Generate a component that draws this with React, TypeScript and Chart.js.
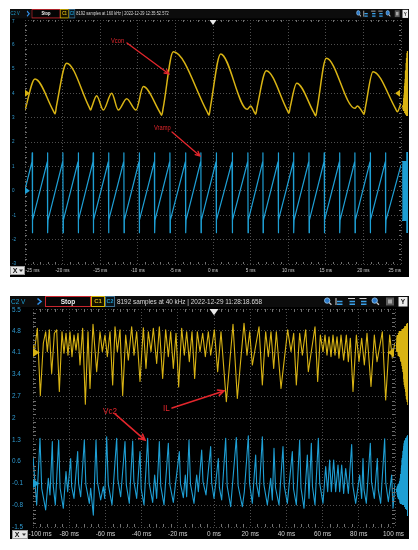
import { useEffect, useRef } from "react";
import { Chart, registerables } from "chart.js";

Chart.register(...registerables);

const FONT = '"Liberation Sans", Arial, sans-serif';
const YELLOW = "#d9b414";
const BLUE = "#1e9fd4";
const RED = "#e3262c";

// ---------------- top capture: 8192 samples at 160 kHz ----------------
const topTimeTicks = [-25, -20, -15, -10, -5, 0, 5, 10, 15, 20, 25];
const topVoltTicks = [7, 6, 5, 4, 3, 2, 1, 0, -1, -2, -3];
const topHeader = "8192 samples at 160 kHz | 2022-12-29 12:35:52.572";

// Vcon (C1, yellow): points (ms, V on the C2 grid)
const vconTime = [-25, -23.67, -21.25, -21.0, -20.8, -19.46, -16.5, -16.27, -16.1, -15.47, -14.59, -13.47, -12.59, -11.48, -10.24, -9.27, -7.05, -6.82, -6.62, -5.28, -0.78, -0.53, -0.33, 1.02, 4.56, 5.0, 5.5, 5.68, 5.88, 7.09, 9.85, 10.1, 10.28, 11.13, 13.4, 13.66, 13.86, 15.07, 18.88, 19.19, 19.9, 20.08, 20.28, 21.28, 24.25, 24.5, 25];
const vconVolt = [3.31, 4.58, 3.29, 3.15, 3.5, 5.23, 3.45, 3.31, 3.45, 3.9, 3.31, 4.0, 3.31, 3.77, 3.31, 4.27, 3.21, 3.1, 3.4, 5.7, 3.24, 3.1, 3.45, 5.61, 3.34, 3.48, 3.22, 3.14, 3.45, 4.92, 3.32, 3.18, 3.45, 4.41, 3.21, 3.07, 3.4, 5.43, 3.38, 3.48, 3.22, 3.14, 3.45, 4.88, 3.38, 3.24, 3.59];

// Vramp (C2, blue): reset instants (ms) and levels (V)
const vrampResetTime = [-24.03, -21.99, -19.95, -17.91, -15.92, -13.88, -11.84, -9.8, -7.76, -5.72, -3.63, -1.6, 0.44, 2.57, 4.65, 6.65, 8.69, 10.73, 12.77, 14.8, 16.85, 18.88, 20.92, 22.96];
const vrampStartVolt = 0.05;
const vrampLowVolt = -1.2;
const vrampHighVolt = 1.19;
const vrampSpikeHighVolt = 1.56;
const vrampSpikeLowVolt = -1.72;
const vrampEndVolt = 1.06;

const topCh1Offset = 4;
const topCh2Offset = 0;
const topTrigLevel = 4;

// ---------------- bottom capture: 8192 samples at 40 kHz ----------------
const botTimeTicks = [-100, -80, -60, -40, -20, 0, 20, 40, 60, 80, 100];
const botVoltTicks = [5.5, 4.8, 4.1, 3.4, 2.7, 2, 1.3, 0.6, -0.1, -0.8, -1.5];
const botHeader = "8192 samples at 40 kHz | 2022-12-29 11:28:18.658";

// IL (C1, yellow)
const ilTime = [-100, -99.26, -97.6, -95.95, -94.29, -93.0, -92.08, -90.97, -89.68, -88.21, -86.92, -85.45, -83.98, -82.87, -81.77, -80.66, -79.56, -78.45, -77.35, -76.24, -75.14, -74.03, -72.56, -71.08, -69.61, -68.51, -66.85, -64.82, -62.98, -61.69, -60.22, -58.93, -57.46, -55.98, -54.69, -53.4, -51.93, -50.46, -48.8, -47.33, -45.49, -44.2, -42.72, -40.88, -39.04, -37.57, -36.28, -34.8, -33.52, -31.67, -30.2, -28.36, -26.7, -25.23, -23.94, -22.47, -20.99, -19.52, -17.86, -16.39, -15.1, -13.63, -12.15, -10.68, -9.21, -7.73, -6.26, -4.79, -3.13,
  -1.84, 0.19, 2.03, 3.87, 6.82, 10.5, 12.89, 16.58, 18.23, 19.71, 21.18, 24.86, 26.71, 28.55, 30.02, 31.49, 32.97, 34.44, 37.02, 40.7, 42.54, 44.02, 45.49, 47.33, 48.81, 50.65, 52.12, 55.8, 57.28, 58.75, 60.22, 61.33, 62.43, 63.54, 64.64, 65.75, 66.85, 67.96, 69.06, 70.17, 71.64, 73.11, 74.22, 75.32, 76.8, 78.64, 80.11, 81.59, 83.06, 84.53, 86.74, 88.58, 90.06, 93.0, 94.85, 97.06, 98.53, 99.82, 100];
const ilVolt = [4.35, 4.13, 4.88, 2.72, 4.4, 4.77, 4.13, 4.83, 3.43, 4.72, 4.83, 2.85, 4.77, 4.08, 4.72, 4.02, 4.77, 3.97, 4.66, 4.18, 4.72, 3.7, 4.88, 2.44, 4.77, 2.95, 5.01, 3.49, 4.77, 4.13, 4.66, 3.97, 4.77, 3.06, 4.93, 4.13, 4.83, 2.72, 4.66, 3.86, 4.93, 4.02, 4.77, 3.17, 4.9, 3.59, 4.77, 4.13, 4.88, 3.75, 4.93, 3.27, 4.83, 3.97, 4.77, 3.59, 4.72, 3.0, 4.88, 4.02, 4.77, 3.81, 4.77, 3.27, 4.77, 4.13, 4.72, 3.97, 4.77,
  4.02, 4.83, 3.49, 4.77, 2.52, 5.01, 2.63, 5.04, 4.02, 4.77, 3.7, 4.93, 3.06, 4.77, 3.97, 4.77, 3.59, 4.77, 2.95, 4.83, 4.13, 4.72, 3.06, 4.72, 4.02, 4.83, 3.49, 4.93, 3.17, 4.66, 4.13, 4.66, 4.02, 4.61, 3.97, 4.66, 4.02, 4.61, 3.92, 4.66, 3.86, 4.66, 3.81, 4.56, 2.85, 4.66, 3.81, 4.56, 3.7, 4.72, 3.01, 4.66, 3.81, 4.77, 2.58, 4.66, 3.92, 4.4, 4.3];

// Vc2 (C2, blue): fast rise, then a decay that is steep first and flattens out
const vc2Time = [-100, -99.81, -97.97, -96.13, -95.19, -93.0, -91.53, -90.61, -89.32, -88.82, -87.66, -85.82, -85.05, -83.24, -81.77, -80.85, -79.19, -78.64, -77.35, -75.32, -74.82, -73.66, -71.64, -70.81, -68.87, -68.14, -66.66, -65.19, -64.42, -62.61, -61.14, -60.4, -59.3, -58.42, -56.35, -53.77, -53.11, -51.56, -49.17, -48.45, -46.78, -44.93, -44.27, -42.72, -40.88, -40.22, -38.67, -36.65, -35.82, -33.88, -32.78, -31.67, -30.2, -29.43, -27.62, -25.23, -24.4, -22.47, -19.15, -18.49, -16.94, -15.84, -15.1, -13.81, -12.98, -11.05, -9.57, -8.65, -6.81, -6.09, -4.42,
  -1.84, -1.29, 0.0, 2.4, 2.95, 4.24, 6.45, 7.28, 9.21, 12.34, 13.34, 15.66, 16.76, 18.97, 19.63, 21.18, 23.02, 23.57, 24.86, 26.71, 27.54, 29.47, 31.31, 32.23, 33.15, 33.98, 35.91, 38.12, 38.84, 40.52, 43.28, 43.94, 45.49, 47.33, 48.05, 49.73, 51.57, 52.49, 53.78, 54.39, 55.8, 57.65, 58.42, 60.22, 61.7, 62.8, 63.91, 64.83, 66.12, 67.22, 68.51, 69.43, 70.54, 71.64, 72.75, 74.22, 76.06, 76.72, 78.27, 80.48, 81.59, 82.32, 82.87, 84.16, 86.37, 87.03, 88.58, 90.24, 90.79, 92.08, 94.29, 94.9, 96.32, 98.16, 98.9, 99.82, 100];
const vc2Volt = [0.7, 0.6, -0.79, 1.35, -0.26, -0.95, 0.06, -0.47, 1.24, -0.18, -0.79, 1.29, -0.24, -0.9, 0.28, -0.37, 0.7, -0.2, -0.58, 0.92, -0.1, -0.53, 1.29, -0.13, -0.74, -0.26, -1.12, 1.29, -0.05, -0.63, -0.2, -0.58, 1.4, -0.13, -0.79, 1.35, 0.03, -0.53, 1.24, -0.15, -0.74, 1.26, -0.03, -0.58, 0.92, -0.28, -0.79, 1.35, -0.09, -0.71, 0.17, -0.58, 1.24, -0.18, -0.79, 1.19, -0.14, -0.71, 0.92, -0.12, -0.56, 0.17, -0.53, 1.29, -0.13, -0.74, 0.17, -0.37, 0.97, -0.04, -0.47,
  1.08, -0.08, -0.58, 0.7, -0.23, -0.63, 1.35, -0.19, -0.85, 1.37, -0.18, -0.85, -0.37, 1.43, -0.09, -0.74, 0.81, -0.13, -0.53, 1.4, -0.13, -0.79, 0.06, -0.63, 1.03, -0.24, -0.79, 1.08, -0.19, -0.74, 0.92, -0.28, -0.79, 1.29, -0.24, -0.9, 0.81, -0.58, 1.19, -0.2, -0.79, 1.35, -0.11, -0.74, 0.44, -0.37, 0.65, -0.37, 0.65, -0.37, 0.49, -0.37, 0.49, -0.42, 0.38, -0.42, 1.15, -0.17, -0.74, 0.17, -0.58, 0.7, -0.31, -0.74, 1.19, -0.05, -0.58, 0.7, -0.31, -0.74, 1.33, -0.08, -0.69, 0.17, -0.9, -0.26, -0.1];

const botCh1Offset = 4.1;
const botCh2Offset = -0.1;
const botTrigLevel = 4.1;

// ---------------- helpers ----------------
const zip = (t: number[], v: number[]) => t.map((x, i) => ({ x, y: v[i] }));

function rampPoints() {
  const p = [{ x: topTimeTicks[0], y: vrampStartVolt }];
  for (const t of vrampResetTime) {
    p.push({ x: t - 0.04, y: vrampHighVolt });
    p.push({ x: t - 0.01, y: vrampSpikeHighVolt });
    p.push({ x: t + 0.01, y: vrampSpikeLowVolt });
    p.push({ x: t + 0.05, y: vrampLowVolt });
  }
  p.push({ x: topTimeTicks[topTimeTicks.length - 1], y: vrampEndVolt });
  return p;
}

const TOP: any = {
  left: 10, top: 9, w: 399, h: 268,
  pad: { left: 15, right: 8, top: 11, bottom: 13 },
  xTicks: topTimeTicks, yTicks: topVoltTicks,
  series: [
    { points: zip(vconTime, vconVolt), color: YELLOW, width: 1.5, mono: true },
    { points: rampPoints(), color: BLUE, width: 1.2, mono: false },
  ],
  headerText: topHeader, hsx: 0.62, hsy: 0.85,
  axisFont: 5.4, axisSx: 0.85, yLabelX: 2,
  xLabelY: 7, xLabelMaxRight: 391,
  xBox: { x: 0.5, y: 257.5, w: 14, h: 8 },
  notes: [
    { text: "Vcon", x: -13.56, y: 6.14 },
    { text: "Vramp", x: -7.85, y: 2.57 },
  ],
  arrows: [
    { from: [-11.44, 6.06], to: [-5.85, 4.79] },
    { from: [-5.45, 2.41], to: [-1.73, 1.43] },
  ],
  noteFont: 6.5, noteSx: 0.88, arrowWidth: 1.3, arrowHead: 5,
  ch1: topCh1Offset, ch2: topCh2Offset, trig: topTrigLevel,
  marker: 3.5, minorLen: 2,
};

const BOTTOM: any = {
  left: 10, top: 296, w: 399, h: 243,
  pad: { left: 23, right: 14, top: 13, bottom: 12 },
  xTicks: botTimeTicks, yTicks: botVoltTicks,
  series: [
    { points: zip(ilTime, ilVolt), color: YELLOW, width: 1.1, mono: false },
    { points: zip(vc2Time, vc2Volt), color: BLUE, width: 1.1, mono: false },
  ],
  headerText: botHeader, hsx: 1, hsy: 1,
  axisFont: 6.4, axisSx: 1, yLabelX: 2,
  xLabelY: 7, xLabelMaxRight: 394,
  xBox: { x: 2.5, y: 234.5, w: 15, h: 8 },
  notes: [
    { text: "Vc2", x: -61.3, y: 2.22 },
    { text: "IL", x: -28.2, y: 2.29 },
  ],
  arrows: [
    { from: [-54.7, 2.13], to: [-38.1, 1.29] },
    { from: [-23.2, 2.32], to: [5.5, 2.87] },
  ],
  noteFont: 8.6, noteSx: 0.95, arrowWidth: 1.6, arrowHead: 6.5,
  ch1: botCh1Offset, ch2: botCh2Offset, trig: botTrigLevel,
  marker: 4.5, minorLen: 3,
};

function txt(ctx: CanvasRenderingContext2D, s: string, x: number, y: number, size: number, color: string, align: CanvasTextAlign = "left", sx = 1, bold = false) {
  ctx.save();
  ctx.translate(x, y);
  ctx.scale(sx, 1);
  ctx.font = `${bold ? "bold " : ""}${size}px ${FONT}`;
  ctx.fillStyle = color;
  ctx.textAlign = align;
  ctx.textBaseline = "middle";
  ctx.fillText(s, 0, 0);
  ctx.restore();
}

function drawHeader(ctx: CanvasRenderingContext2D, cfg: any, W: number) {
  const bw = W / cfg.hsx;
  ctx.save();
  ctx.scale(cfg.hsx, cfg.hsy);
  ctx.fillStyle = "#0c0c0c";
  ctx.fillRect(0, 0, bw, 11);
  txt(ctx, "C2 V", 1, 5.8, 6.5, BLUE);
  ctx.strokeStyle = "#3090ea";
  ctx.lineWidth = 1.6;
  ctx.beginPath();
  ctx.moveTo(27.5, 2.5); ctx.lineTo(31, 5.5); ctx.lineTo(27.5, 8.5);
  ctx.stroke();
  ctx.lineWidth = 1;
  ctx.fillStyle = "#050505";
  ctx.fillRect(35.5, 0.5, 45, 10);
  ctx.strokeStyle = "#c8262e";
  ctx.strokeRect(35.5, 0.5, 45, 10);
  txt(ctx, "Stop", 58, 5.8, 6.5, "#f2f2f2", "center", 1, true);
  ctx.fillStyle = "#141200";
  ctx.fillRect(81.5, 0.5, 13, 10);
  ctx.strokeStyle = "#d4b000";
  ctx.strokeRect(81.5, 0.5, 13, 10);
  txt(ctx, "C1", 88, 5.8, 6, YELLOW, "center", 1, true);
  ctx.fillStyle = "#08141c";
  ctx.fillRect(95.5, 0.5, 9, 10);
  ctx.strokeStyle = "#3d6f8f";
  ctx.strokeRect(95.5, 0.5, 9, 10);
  txt(ctx, "C2", 100, 5.8, 5.6, BLUE, "center", 0.95, true);
  txt(ctx, cfg.headerText, 107, 5.8, 6.4, "#dadada");

  // tool icons (right)
  const mag = (cx: number) => {
    ctx.fillStyle = "#2b78c8";
    ctx.beginPath(); ctx.arc(cx - 0.8, 4.6, 2.7, 0, Math.PI * 2); ctx.fill();
    ctx.strokeStyle = "#9fd0f4"; ctx.lineWidth = 0.8; ctx.stroke();
    ctx.strokeStyle = "#cfcfcf"; ctx.lineWidth = 1.3;
    ctx.beginPath(); ctx.moveTo(cx + 1.2, 6.6); ctx.lineTo(cx + 3.4, 8.8); ctx.stroke();
  };
  const bars = (cx: number, variant: number) => {
    ctx.strokeStyle = "#d8d8d8"; ctx.lineWidth = 1;
    ctx.beginPath();
    if (variant === 0) { ctx.moveTo(cx - 3, 2); ctx.lineTo(cx - 3, 9); }
    else { ctx.moveTo(cx - 3.5, 2.5); ctx.lineTo(cx + 3.5, 2.5); }
    ctx.stroke();
    ctx.strokeStyle = "#3aa0e8"; ctx.lineWidth = 1.6;
    ctx.beginPath();
    ctx.moveTo(cx - 2, 5.5); ctx.lineTo(cx + 3.5, 5.5);
    ctx.moveTo(cx - 2, 8.3); ctx.lineTo(cx + 3.5, 8.3);
    ctx.stroke();
  };
  mag(bw - 81);
  bars(bw - 70, 0);
  bars(bw - 57.5, 1);
  bars(bw - 46, 1);
  mag(bw - 33.5);
  ctx.fillStyle = "#595959";
  ctx.fillRect(bw - 23, 1.5, 8, 8);
  ctx.fillStyle = "#a8a8a8";
  ctx.fillRect(bw - 21, 3.5, 4, 4);
  ctx.fillStyle = "#ececec";
  ctx.fillRect(bw - 10.5, 1, 9, 9.5);
  txt(ctx, "Y", bw - 6, 5.9, 6.5, "#111", "center", 1, true);
  ctx.restore();
}

function makePlugin(cfg: any) {
  return {
    id: "scopeDecor",
    beforeDraw(chart: any) {
      const ctx = chart.ctx as CanvasRenderingContext2D;
      ctx.save();
      ctx.fillStyle = "#000";
      ctx.fillRect(0, 0, chart.width, chart.height);
      ctx.restore();
    },
    afterDraw(chart: any) {
      const ctx = chart.ctx as CanvasRenderingContext2D;
      const ca = chart.chartArea;
      const xs = chart.scales.x;
      const ys = chart.scales.y;
      const W = chart.width;
      ctx.save();

      // minor ticks on plot edges
      ctx.strokeStyle = "#707070";
      ctx.lineWidth = 1;
      ctx.beginPath();
      const xt = cfg.xTicks;
      for (let i = 0; i < xt.length - 1; i++) {
        for (let k = 1; k < 5; k++) {
          const px = Math.round(xs.getPixelForValue(xt[i] + ((xt[i + 1] - xt[i]) * k) / 5)) + 0.5;
          ctx.moveTo(px, ca.top); ctx.lineTo(px, ca.top + cfg.minorLen);
          ctx.moveTo(px, ca.bottom); ctx.lineTo(px, ca.bottom - cfg.minorLen);
        }
      }
      const yt = cfg.yTicks;
      for (let i = 0; i < yt.length - 1; i++) {
        for (let k = 1; k < 5; k++) {
          const py = Math.round(ys.getPixelForValue(yt[i] + ((yt[i + 1] - yt[i]) * k) / 5)) + 0.5;
          ctx.moveTo(ca.left, py); ctx.lineTo(ca.left + cfg.minorLen, py);
          ctx.moveTo(ca.right, py); ctx.lineTo(ca.right - cfg.minorLen, py);
        }
      }
      ctx.stroke();

      // histograms at the right of the plot, from the data
      const maxLen = W - ca.right - 2;
      chart.data.datasets.forEach((ds: any, di: number) => {
        const pts = chart.getDatasetMeta(di).data;
        const bins: Record<number, number> = {};
        for (let i = 1; i < pts.length; i++) {
          const a = pts[i - 1], b = pts[i];
          const dx = Math.abs(b.x - a.x) + 0.05;
          const r0 = Math.floor(Math.min(a.y, b.y));
          const r1 = Math.floor(Math.max(a.y, b.y));
          const n = r1 - r0 + 1;
          for (let r = r0; r <= r1; r++) bins[r] = (bins[r] || 0) + dx / n;
        }
        const vals = Object.values(bins);
        const mx = Math.max(...vals);
        ctx.fillStyle = ds.borderColor;
        for (const key of Object.keys(bins)) {
          const r = Number(key);
          if (r < ca.top || r > ca.bottom) continue;
          const len = Math.pow(bins[r] / mx, 0.55) * maxLen;
          ctx.fillRect(W - 1 - len, r, len, 1);
        }
      });

      // channel offset markers (left), trigger level (right), trigger position (top)
      const m = cfg.marker;
      const tri = (pts: number[][], color: string) => {
        ctx.fillStyle = color;
        ctx.beginPath();
        ctx.moveTo(pts[0][0], pts[0][1]);
        ctx.lineTo(pts[1][0], pts[1][1]);
        ctx.lineTo(pts[2][0], pts[2][1]);
        ctx.closePath();
        ctx.fill();
      };
      const y1 = ys.getPixelForValue(cfg.ch1);
      const y2 = ys.getPixelForValue(cfg.ch2);
      const yt1 = ys.getPixelForValue(cfg.trig);
      tri([[ca.left, y1 - m], [ca.left, y1 + m], [ca.left + m * 1.4, y1]], YELLOW);
      tri([[ca.left, y2 - m], [ca.left, y2 + m], [ca.left + m * 1.4, y2]], BLUE);
      tri([[ca.right - 1, yt1 - m], [ca.right - 1, yt1 + m], [ca.right - 1 - m * 1.4, yt1]], YELLOW);
      const x0 = xs.getPixelForValue(0);
      tri([[x0 - m, ca.top], [x0 + m, ca.top], [x0, ca.top + m * 1.4]], "#e8e8e8");

      // y tick labels
      for (const v of cfg.yTicks) {
        const py = Math.max(ys.getPixelForValue(v), ca.top + 1.5);
        txt(ctx, String(v), cfg.yLabelX, py, cfg.axisFont, "#2f9ad0", "left", cfg.axisSx);
      }

      // x tick labels
      const xb = cfg.xBox;
      const minLeft = xb.x + xb.w + 1;
      ctx.font = `${cfg.axisFont}px ${FONT}`;
      for (const v of cfg.xTicks) {
        const s = `${v} ms`;
        const w = ctx.measureText(s).width * cfg.axisSx;
        let left = xs.getPixelForValue(v) - w / 2;
        if (left < minLeft) left = minLeft;
        if (left + w > cfg.xLabelMaxRight) left = cfg.xLabelMaxRight - w;
        txt(ctx, s, left, ca.bottom + cfg.xLabelY, cfg.axisFont, "#cfcfcf", "left", cfg.axisSx);
      }

      // X selector box
      ctx.fillStyle = "#e6e6e6";
      ctx.fillRect(xb.x, xb.y, xb.w, xb.h);
      ctx.strokeStyle = "#9a9a9a";
      ctx.lineWidth = 1;
      ctx.strokeRect(xb.x, xb.y, xb.w, xb.h);
      txt(ctx, "X", xb.x + 2.2, xb.y + xb.h / 2 + 0.3, xb.h - 1, "#111", "left", 1, true);
      tri([[xb.x + xb.w - 5.5, xb.y + xb.h / 2 - 1], [xb.x + xb.w - 1.5, xb.y + xb.h / 2 - 1], [xb.x + xb.w - 3.5, xb.y + xb.h / 2 + 1.5]], "#333");

      // header bar
      drawHeader(ctx, cfg, W);

      // annotations
      for (const n of cfg.notes) {
        txt(ctx, n.text, xs.getPixelForValue(n.x), ys.getPixelForValue(n.y), cfg.noteFont, RED, "left", cfg.noteSx);
      }
      ctx.strokeStyle = RED;
      ctx.lineWidth = cfg.arrowWidth;
      ctx.lineCap = "round";
      for (const a of cfg.arrows) {
        const ax = xs.getPixelForValue(a.from[0]), ay = ys.getPixelForValue(a.from[1]);
        const bx = xs.getPixelForValue(a.to[0]), by = ys.getPixelForValue(a.to[1]);
        const ang = Math.atan2(by - ay, bx - ax);
        const h = cfg.arrowHead;
        ctx.beginPath();
        ctx.moveTo(ax, ay); ctx.lineTo(bx, by);
        ctx.moveTo(bx - h * Math.cos(ang - 0.45), by - h * Math.sin(ang - 0.45));
        ctx.lineTo(bx, by);
        ctx.lineTo(bx - h * Math.cos(ang + 0.45), by - h * Math.sin(ang + 0.45));
        ctx.stroke();
      }
      ctx.restore();
    },
  };
}

function ScopePanel({ cfg }: { cfg: any }) {
  const ref = useRef<HTMLCanvasElement>(null);
  useEffect(() => {
    const canvas = ref.current!;
    const xt = cfg.xTicks, yt = cfg.yTicks;
    const chart = new Chart(canvas, {
      type: "line",
      data: {
        datasets: cfg.series.map((s: any) => ({
          data: s.points,
          borderColor: s.color,
          backgroundColor: s.color,
          borderWidth: s.width,
          pointRadius: 0,
          fill: false,
          tension: s.mono ? 0.4 : 0,
          cubicInterpolationMode: s.mono ? "monotone" : "default",
          borderJoinStyle: "round",
        })),
      },
      options: {
        responsive: false,
        animation: false,
        events: [],
        layout: { padding: cfg.pad },
        plugins: { legend: { display: false }, tooltip: { enabled: false } },
        scales: {
          x: {
            type: "linear",
            min: Math.min(...xt),
            max: Math.max(...xt),
            afterBuildTicks: (s: any) => { s.ticks = xt.map((v: number) => ({ value: v })); },
            afterFit: (s: any) => { s.height = 0; },
            ticks: { display: false },
            grid: { color: "#4e4e4e", lineWidth: 1, drawTicks: false },
            border: { display: false, dash: [1, 2] },
          },
          y: {
            type: "linear",
            min: Math.min(...yt),
            max: Math.max(...yt),
            afterBuildTicks: (s: any) => { s.ticks = yt.map((v: number) => ({ value: v })); },
            afterFit: (s: any) => { s.width = 0; },
            ticks: { display: false },
            grid: { color: "#4e4e4e", lineWidth: 1, drawTicks: false },
            border: { display: false, dash: [1, 2] },
          },
        },
      } as any,
      plugins: [makePlugin(cfg)],
    });
    return () => chart.destroy();
  }, [cfg]);
  return (
    <canvas
      ref={ref}
      width={cfg.w}
      height={cfg.h}
      style={{ position: "absolute", left: cfg.left, top: cfg.top, width: cfg.w, height: cfg.h, display: "block" }}
    />
  );
}

export default function App() {
  return (
    <div style={{ position: "fixed", left: 0, top: 0, width: 418, height: 550, background: "#ffffff", overflow: "hidden" }}>
      <ScopePanel cfg={TOP} />
      <ScopePanel cfg={BOTTOM} />
    </div>
  );
}
